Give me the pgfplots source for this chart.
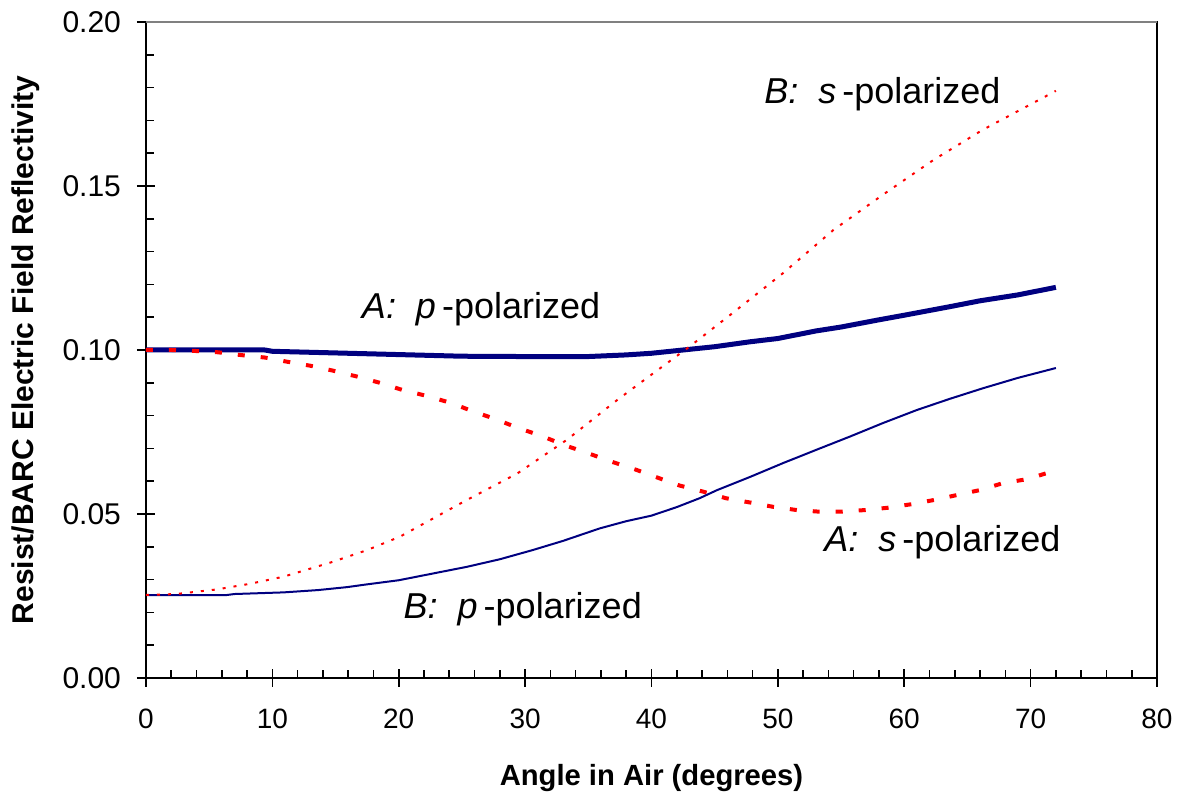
\documentclass[border=0pt]{standalone}
\usepackage{fontspec}
\setmainfont{Liberation Sans}
\usepackage{pgfplots}
\pgfplotsset{compat=1.18}
\definecolor{navy}{RGB}{0,0,128}
\definecolor{topgray}{RGB}{128,128,128}
\begin{document}
\begin{tikzpicture}
\path[use as bounding box] (-73pt,-58.5pt) rectangle (519pt,339pt);
\begin{axis}[
  scale only axis, width=505.5pt, height=328pt,
  at={(0,0)}, anchor=south west,
  xmin=0, xmax=80, ymin=0, ymax=0.2,
  clip=false,
  xtick={0,10,20,30,40,50,60,70,80},
  ytick={0,0.05,0.1,0.15,0.2},
  minor x tick num=4, minor y tick num=4,
  tick pos=left,
  tick align=inside,
  major tick length=4.5pt, minor tick length=4pt,
  extra x ticks={0,10,20,30,40,50,60,70,80}, extra x tick labels={},
  extra y ticks={0,0.05,0.1,0.15,0.2}, extra y tick labels={},
  extra tick style={tick align=outside, major tick length=4.5pt},
  axis line style={line width=1pt, black},
  every tick/.style={black, line width=0.8pt},
  /pgf/number format/assume math mode=true,
  xticklabel style={font=\fontsize{14}{16}\selectfont, yshift=-12pt},
  yticklabel style={font=\fontsize{15}{17}\selectfont, xshift=-9pt, /pgf/number format/.cd, fixed, fixed zerofill, precision=2},
  xlabel={Angle in Air (degrees)},
  xlabel style={font=\bfseries\fontsize{14.6}{17}\selectfont, at={(axis description cs:0.5,-0.1646)}, anchor=base},
  ylabel={Resist/BARC Electric Field Reflectivity},
  ylabel style={font=\bfseries\fontsize{15}{17}\selectfont, at={(axis description cs:-0.1114,0.5)}, anchor=base},
]
% A: p-polarized
\addplot[navy, line width=2.5pt, line join=round] coordinates {
(0,0.1000) (5,0.1000) (9.4,0.1000) (10,0.0996) (15,0.0991) (20,0.0986) (25,0.0981) (30,0.0980) (35,0.0980)
(38,0.0985) (40,0.0990) (42.5,0.1000) (45,0.1010) (47.8,0.1025) (50,0.1035) (53,0.1058) (55,0.1070)
(58,0.1092) (60,0.1106) (63.6,0.1132) (66,0.1150) (69,0.1168) (72,0.1191)};
% A: s-polarized
\addplot[red, line width=2pt, dash pattern=on 3.5pt off 8pt] coordinates {
(0,0.1000) (2,0.1000) (3.9,0.0997) (5.7,0.0993) (7.4,0.0985) (9.4,0.0977) (11.2,0.0964) (13,0.0952)
(14.8,0.0937) (16.7,0.0919) (18.5,0.0900) (20.3,0.0878) (22.1,0.0861) (24.1,0.0839) (25.8,0.0814)
(27.6,0.0790) (29.4,0.0763) (31.3,0.0738) (33.1,0.0710) (35,0.0685) (36.8,0.0660) (38.7,0.0636)
(40.4,0.0612) (42.2,0.0587) (44.1,0.0568) (45.9,0.0548) (47.8,0.0535) (49.6,0.0522) (51.5,0.0512)
(53.3,0.0507) (55,0.0507) (56.9,0.0512) (58.7,0.0519) (60.6,0.0530) (62.4,0.0543) (64.2,0.0558)
(66,0.0573) (67.8,0.0594) (69.7,0.0606) (71.4,0.0626) (72,0.0630)};
% B: p-polarized
\addplot[navy, line width=1pt, line join=round] coordinates {
(0,0.0253) (6.4,0.0253) (7,0.0256) (10.9,0.0261) (13.6,0.0268) (15.9,0.0277) (17.4,0.0285) (20,0.0298)
(25.4,0.0339) (28,0.0362) (30.6,0.0390) (33,0.0418) (35.9,0.0456) (38,0.0478) (40,0.0495) (42,0.0521) (43.8,0.0548) (45.2,0.0573) (47.8,0.0613) (50.4,0.0655)
(53,0.0695) (55.7,0.0736) (58.3,0.0777) (61,0.0817) (63.6,0.0851) (66.2,0.0883) (69,0.0915) (72,0.0945)};
% B: s-polarized
\addplot[red, line width=1pt, dash pattern=on 1.5pt off 4pt] coordinates {
(0,0.0253) (2.4,0.0256) (5.6,0.0270) (8.2,0.0287) (10.9,0.0309) (14.6,0.0352) (17.5,0.0390)
(20.1,0.0431) (25.4,0.0543) (29.4,0.0624) (33.3,0.0726) (37.3,0.0848) (40,0.0925) (43,0.1010)
(46.4,0.1112) (50.4,0.1234) (54.4,0.1366) (58.3,0.1473) (62.3,0.1579) (66.2,0.1671) (72,0.1790)};
\draw[topgray, line width=1pt] (rel axis cs:0,1) -- (rel axis cs:1,1);
\node[anchor=base west, inner sep=0, font=\fontsize{18}{21}\selectfont] at (axis cs:48.9,0.1753) {\textit{B:}\ \ \textit{s}\,-polarized};
\node[anchor=base west, inner sep=0, font=\fontsize{18}{21}\selectfont] at (axis cs:17.06,0.1097) {\textit{A:}\ \ \textit{p}\,-polarized};
\node[anchor=base west, inner sep=0, font=\fontsize{18}{21}\selectfont] at (axis cs:53.64,0.0385) {\textit{A:}\ \ \textit{s}\,-polarized};
\node[anchor=base west, inner sep=0, font=\fontsize{18}{21}\selectfont] at (axis cs:20.36,0.0182) {\textit{B:}\ \ \textit{p}\,-polarized};
\end{axis}
\end{tikzpicture}
\end{document}
